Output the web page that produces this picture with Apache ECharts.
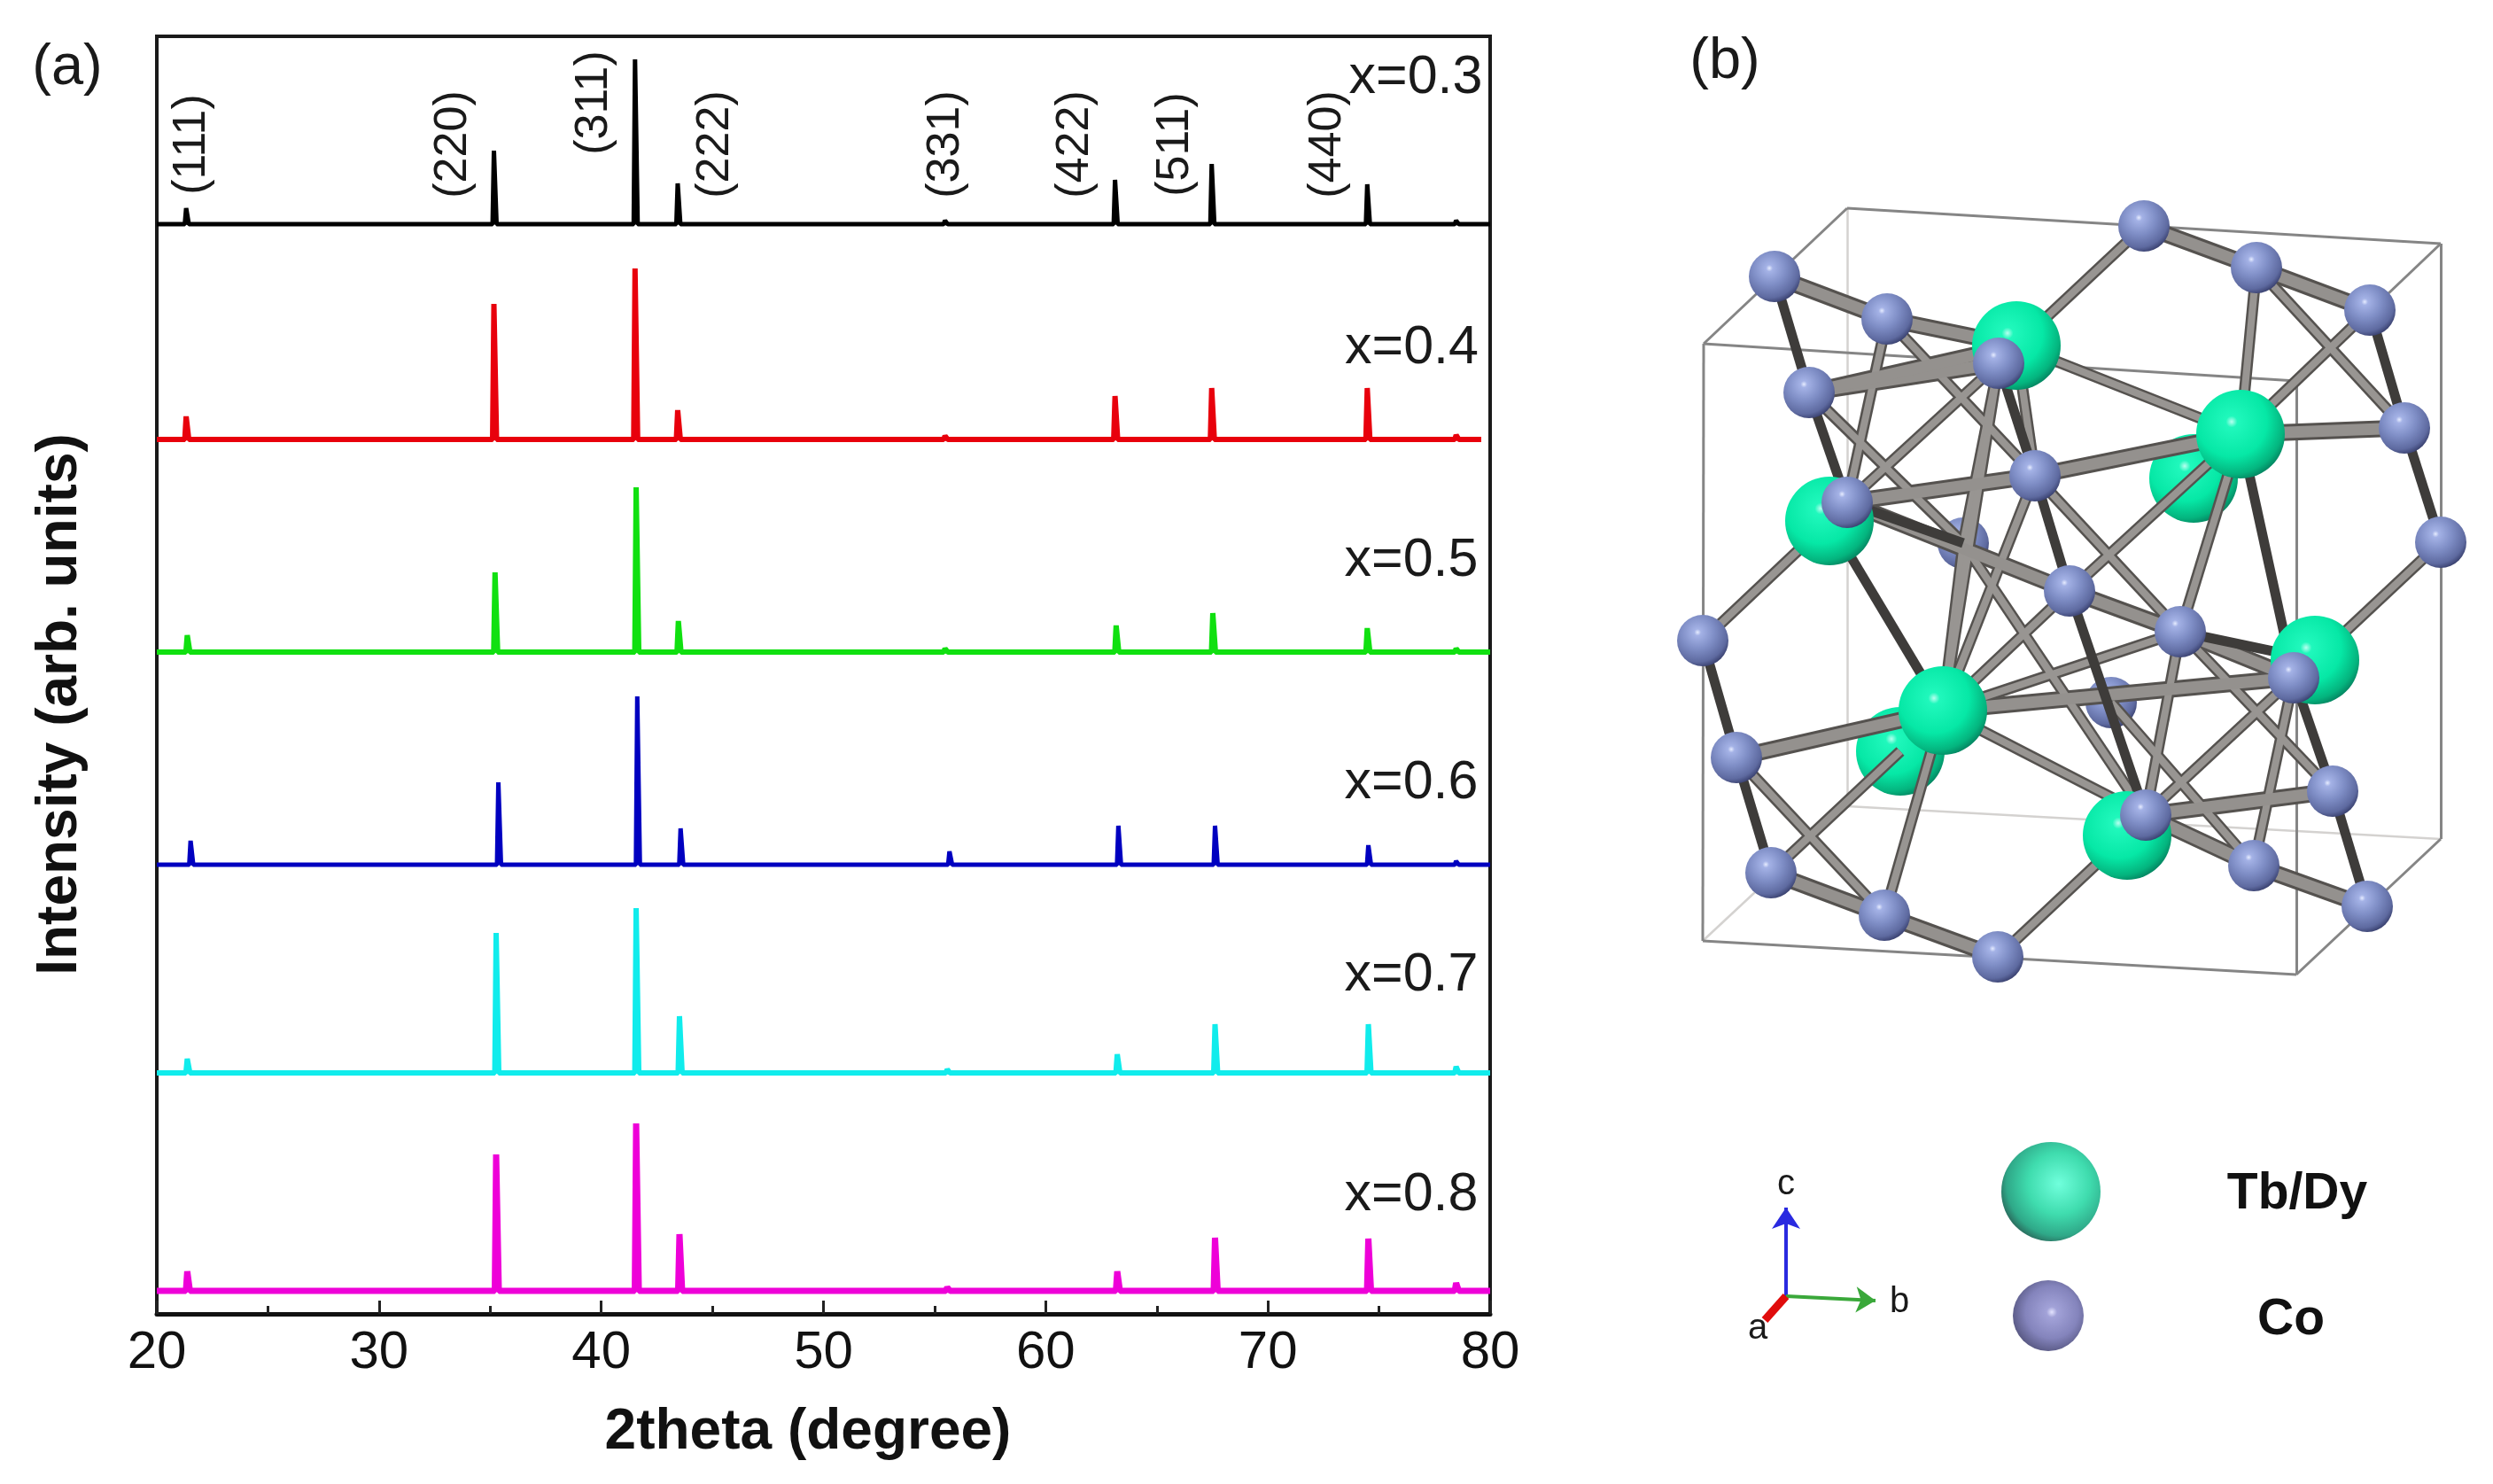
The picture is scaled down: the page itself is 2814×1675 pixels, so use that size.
<!DOCTYPE html>
<html>
<head>
<meta charset="utf-8">
<style>html,body{margin:0;padding:0;background:#fff}#c{width:2814px;height:1675px}</style>
<script src="https://cdn.jsdelivr.net/npm/echarts@6/dist/echarts.min.js"></script>
</head>
<body>
<div id="c"></div>
<script>
// ---------- Panel (a): XRD patterns ----------
const compositions = ['x=0.3', 'x=0.4', 'x=0.5', 'x=0.6', 'x=0.7', 'x=0.8'];
const seriesColors = ['#000000', '#e8000c', '#10e010', '#0000c0', '#10ecec', '#ee00d8'];
const traceWidths = [5, 6, 6, 5, 6, 7];
const baselines = [1230, 987, 747, 507, 272, 26];
const traceEnd = [80, 79.6, 80, 80, 80, 80];
// peak order: (111) (220) (311) (222) (331) (422) (511) (440) and the small one near 78.5
const peakTheta = [
  [21.35, 35.2, 41.55, 43.47, 55.5, 63.15, 67.5, 74.5, 78.5],
  [21.35, 35.2, 41.55, 43.47, 55.5, 63.15, 67.5, 74.5, 78.5],
  [21.4, 35.25, 41.6, 43.5, 55.5, 63.2, 67.55, 74.5, 78.5],
  [21.55, 35.4, 41.65, 43.6, 55.7, 63.3, 67.65, 74.55, 78.5],
  [21.4, 35.3, 41.6, 43.55, 55.6, 63.25, 67.65, 74.55, 78.5],
  [21.4, 35.3, 41.6, 43.55, 55.6, 63.25, 67.65, 74.55, 78.5]
];
const peakTop = [
  [1248, 1313, 1416, 1276, 1234, 1280, 1298, 1275, 1234],
  [1013, 1140, 1180, 1020, 991, 1036, 1045, 1045, 992],
  [766, 837, 933, 782, 751, 777, 791, 774, 751],
  [534, 600, 697, 548, 522, 551, 551, 529, 511],
  [288, 430, 458, 336, 276, 293, 327, 327, 279],
  [48, 180, 215, 90, 30, 48, 86, 85, 35]
];
const hklLabels = ['(111)', '(220)', '(311)', '(222)', '(331)', '(422)', '(511)', '(440)'];
const hklTheta = [21.6, 33.36, 39.7, 45.14, 55.52, 61.34, 65.82, 72.71];
const hklHeight = [1320, 1320, 1367, 1320, 1320, 1320, 1320, 1320];
const compositionTheta = [79.68, 79.5, 79.48, 79.48, 79.48, 79.48];
const compositionHeight = [1395, 1090, 850, 599, 382, 134];

// ---------- Panel (b): crystal structure ----------
const cobaltBack = [['l', 2216, 613], ['q', 2383, 793]];
const cobaltFront = [
  ['a', 2420, 255], ['b', 2547, 302], ['c', 2675, 350], ['d', 2003, 312], ['e', 2130, 360],
  ['f', 2042, 443], ['g', 2256, 410], ['h', 2714, 483], ['i', 2755, 612], ['j', 2297, 537],
  ['k', 2085, 567], ['m', 1922, 723], ['n', 2336, 667], ['o', 2461, 713], ['p', 2589, 765],
  ['r', 1960, 855], ['s', 2633, 893], ['t', 2422, 920], ['u', 1999, 985], ['v', 2544, 977],
  ['w', 2127, 1033], ['x', 2672, 1023], ['y', 2255, 1080]
];
const rareEarthBack = [['G3', 2476, 540], ['G7', 2145, 848]];
const rareEarthFront = [
  ['G1', 2276, 390], ['G2', 2529, 490], ['G4', 2065, 588],
  ['G5', 2613, 745], ['G6', 2193, 802], ['G8', 2401, 943]
];
const cellCorners = [
  ['A', 1923, 388], ['B', 2592, 430], ['C', 2592, 1100], ['D', 1922, 1062],
  ['E', 2085, 235], ['F', 2755, 275], ['H', 2755, 947], ['I', 2085, 910]
];
const cellEdges = ['A-B', 'B-C', 'C-D', 'D-A', 'E-F', 'F-H', 'A-E', 'B-F', 'C-H'];
const cellEdgesFaint = ['H-I', 'I-E', 'D-I'];
const thickBonds = ['a-b', 'b-c', 'd-e', 'f-g', 'h-G2', 'G2-j', 'G6-r', 'G6-p', 'u-w', 'w-y', 'v-x', 'n-o', 't-s', 't-v', 'k-n', 'k-j', 'f-G1', 'e-G1', 'o-p'];
const mediumBonds = ['a-G1', 'e-k', 'f-l', 'g-k', 'e-j', 'g-l', 'b-G2', 'b-h', 'c-G2', 'G1-G2', 'i-G5', 'G2-n', 'G2-o', 'm-G4', 'r-w', 'u-G7', 'w-G6', 'y-G8', 'G6-t', 'G6-o', 'G6-l', 'G6-g', 'G6-n', 'p-t', 'p-v', 'o-s', 'q-v', 'l-t', 'G1-j', 'j-o', 'j-G6', 'o-t'];
const darkBonds = ['d-f', 'f-k', 'g-j', 'c-h', 'h-i', 'm-r', 'r-u', 'j-n', 'G2-p', 'G4-G6', 'p-s', 's-x', 'n-t', 'k-l', 'o-G5'];
const triadAxes = [
  { name: 'c', from: [2016, 1463], to: [2016, 1363], color: '#2a2ae0', width: 4, head: 24, label: [2016, 1337] },
  { name: 'b', from: [2016, 1463], to: [2117, 1468], color: '#3aa83a', width: 4, head: 22, label: [2144, 1470] },
  { name: 'a', from: [2016, 1463], to: [1992, 1490], color: '#e00c0c', width: 9, head: 0, label: [1984, 1500] }
];
const legendAtoms = [
  { label: 'Tb/Dy', at: [2315, 1345], textAt: [2593, 1348] },
  { label: 'Co', at: [2312, 1485], textAt: [2586, 1490] }
];

// ---------- Build ----------
const FONT = '"Liberation Sans", Arial, sans-serif';
const where = {};
[...cobaltBack, ...cobaltFront, ...rareEarthBack, ...rareEarthFront, ...cellCorners].forEach(p => { where[p[0]] = [p[1], p[2]]; });
const segs = list => list.map(s => { const [p, q] = s.split('-'); return { coords: [where[p], where[q]] }; });

function tracePoints(i) {
  const base = baselines[i], pts = [[20, base]];
  peakTheta[i].forEach((t, k) => {
    pts.push([t - 0.09, base], [t - 0.03, peakTop[i][k]], [t + 0.03, peakTop[i][k]], [t + 0.09, base]);
  });
  pts.push([traceEnd[i], base]);
  return pts;
}

const coGrad = { type: 'radial', x: 0.4, y: 0.34, r: 0.72, colorStops: [
  { offset: 0, color: '#e6ecff' }, { offset: 0.09, color: '#a4b2e6' }, { offset: 0.45, color: '#7f8ec6' },
  { offset: 0.8, color: '#5e6aa0' }, { offset: 1, color: '#2e3460' }] };
const reGrad = { type: 'radial', x: 0.4, y: 0.36, r: 0.72, colorStops: [
  { offset: 0, color: '#b8fff0' }, { offset: 0.09, color: '#20f8bc' }, { offset: 0.55, color: '#06e8a6' },
  { offset: 0.82, color: '#04b47e' }, { offset: 1, color: '#046a50' }] };
const legReGrad = { type: 'radial', x: 0.58, y: 0.42, r: 0.62, colorStops: [
  { offset: 0, color: '#70ffdc' }, { offset: 0.5, color: '#3fdcae' }, { offset: 0.85, color: '#2fa888' }, { offset: 1, color: '#2a6a5c' }] };
const legCoGrad = { type: 'radial', x: 0.55, y: 0.45, r: 0.62, colorStops: [
  { offset: 0, color: '#e4e4ff' }, { offset: 0.12, color: '#a2a2d8' }, { offset: 0.6, color: '#8484bc' }, { offset: 0.9, color: '#5c5c88' }, { offset: 1, color: '#3c3c58' }] };

const hiddenMark = { color: 'transparent', opacity: 1 };
const textLabel = (size, extra) => Object.assign({ show: true, position: 'inside', fontFamily: FONT, fontSize: size, color: '#1a1a1a', opacity: 1, formatter: p => p.data.text }, extra);
const annotation = (data, label, axis) => ({
  type: 'scatter', xAxisIndex: axis, yAxisIndex: axis, symbolSize: 1, itemStyle: hiddenMark, silent: true, z: 10, clip: false, label, data
});
const atomSeries = (pts, size, color, z) => ({
  type: 'scatter', xAxisIndex: 1, yAxisIndex: 1, symbol: 'circle', symbolSize: size, silent: true, z, clip: false,
  itemStyle: { color, opacity: 1 }, data: pts.map(p => [p[1], p[2]])
});
const lineSeries = (list, width, color, z) => ({
  type: 'lines', coordinateSystem: 'cartesian2d', xAxisIndex: 1, yAxisIndex: 1, silent: true, z, clip: false,
  lineStyle: { width, color, opacity: 1, curveness: 0 }, data: segs(list)
});

const series = [];
compositions.forEach((name, i) => series.push({
  name, type: 'line', xAxisIndex: 0, yAxisIndex: 0, showSymbol: false, symbol: 'none', silent: true, z: 3,
  sampling: 'none', lineStyle: { color: seriesColors[i], width: traceWidths[i], join: 'bevel', cap: 'butt' }, data: tracePoints(i)
}));
series.push(annotation(hklLabels.map((t, i) => ({ value: [hklTheta[i], hklHeight[i]], text: t })),
  textLabel(52, { rotate: 90, align: 'center', verticalAlign: 'middle' }), 0));
series.push(annotation(compositions.map((t, i) => ({ value: [compositionTheta[i], compositionHeight[i]], text: t })),
  textLabel(61, { align: 'right', verticalAlign: 'middle', position: 'left', distance: 0 }), 0));

series.push(lineSeries(cellEdgesFaint, 2.5, '#d4d2d0', 2));
series.push(lineSeries(cellEdges, 3, '#858585', 2));
series.push(atomSeries(rareEarthBack, 100, reGrad, 3));
series.push(atomSeries(cobaltBack, 58, coGrad, 3));
// each bond: a dark rim under a lighter body, like a shaded rod
series.push(lineSeries(mediumBonds, 13, '#55524f', 4));
series.push(lineSeries(thickBonds, 19, '#55524f', 4));
series.push(lineSeries(mediumBonds, 8, '#989592', 4));
series.push(lineSeries(thickBonds, 13, '#94918e', 4));
series.push(lineSeries(darkBonds, 11, '#3e3c3a', 4));
series.push(atomSeries(rareEarthFront, 100, reGrad, 5));
series.push(atomSeries(cobaltFront, 58, coGrad, 6));

triadAxes.forEach(a => series.push({
  type: 'lines', coordinateSystem: 'cartesian2d', xAxisIndex: 1, yAxisIndex: 1, silent: true, z: 5, clip: false,
  symbol: ['none', a.head ? 'arrow' : 'none'], symbolSize: a.head,
  lineStyle: { width: a.width, color: a.color, curveness: 0, opacity: 1 }, data: [{ coords: [a.from, a.to] }]
}));
series.push(annotation(triadAxes.map(a => ({ value: a.label, text: a.name })),
  textLabel(40, { align: 'center', verticalAlign: 'middle' }), 1));
series.push(atomSeries([[legendAtoms[0].label, ...legendAtoms[0].at]], 112, legReGrad, 5));
series.push(atomSeries([[legendAtoms[1].label, ...legendAtoms[1].at]], 80, legCoGrad, 5));
series.push(annotation(legendAtoms.map(a => ({ value: a.textAt, text: a.label })),
  textLabel(57, { align: 'center', verticalAlign: 'middle', fontWeight: 'bold', color: '#111' }), 1));

const titleStyle = { fontFamily: FONT, fontSize: 64, fontWeight: 'bold', fill: '#111', align: 'center', verticalAlign: 'middle' };
const chart = echarts.init(document.getElementById('c'), null, { renderer: 'canvas' });
chart.setOption({
  animation: false,
  backgroundColor: '#ffffff',
  textStyle: { fontFamily: FONT },
  grid: [
    { left: 177, right: 1132, top: 41, bottom: 192, show: true, borderColor: '#1a1a1a', borderWidth: 4, backgroundColor: 'transparent' },
    { left: 1800, right: 0, top: 180, bottom: 115, show: false }
  ],
  xAxis: [
    {
      gridIndex: 0, type: 'value', min: 20, max: 80, interval: 10, position: 'bottom',
      axisLine: { show: true, onZero: false, lineStyle: { color: '#111', width: 5 } },
      axisTick: { show: true, inside: true, length: 15, lineStyle: { color: '#222', width: 3 } },
      minorTick: { show: true, splitNumber: 2, length: 9, lineStyle: { color: '#222', width: 3 } },
      axisLabel: { show: true, margin: 14, fontFamily: FONT, fontSize: 60, color: '#111', showMinLabel: true, showMaxLabel: true },
      splitLine: { show: false }, minorSplitLine: { show: false }
    },
    { gridIndex: 1, type: 'value', min: 1800, max: 2814, show: false, splitLine: { show: false } }
  ],
  yAxis: [
    {
      gridIndex: 0, type: 'value', min: 0, max: 1442,
      axisLine: { show: false }, axisTick: { show: false }, axisLabel: { show: false }, splitLine: { show: false }
    },
    { gridIndex: 1, type: 'value', min: 180, max: 1560, inverse: true, show: false, splitLine: { show: false } }
  ],
  graphic: [
    { type: 'text', x: 76, y: 77, style: { text: '(a)', fontFamily: FONT, fontSize: 65, fill: '#1a1a1a', align: 'center', verticalAlign: 'middle' } },
    { type: 'text', x: 1947, y: 70, style: { text: '(b)', fontFamily: FONT, fontSize: 65, fill: '#1a1a1a', align: 'center', verticalAlign: 'middle' } },
    { type: 'text', x: 912, y: 1617, style: Object.assign({ text: '2theta (degree)' }, titleStyle) },
    { type: 'text', x: 68, y: 795, rotation: Math.PI / 2, style: Object.assign({ text: 'Intensity (arb. units)' }, titleStyle) }
  ],
  series
});
</script>
</body>
</html>
